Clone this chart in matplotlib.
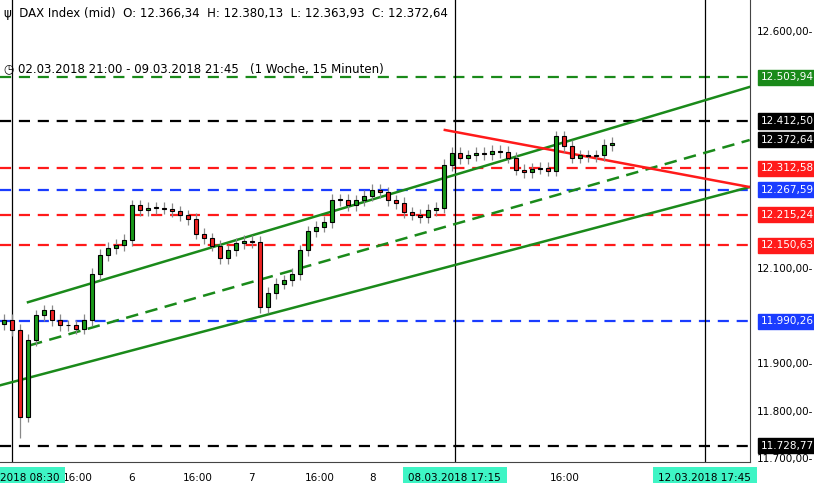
import matplotlib
matplotlib.use('Agg')
import matplotlib.pyplot as plt
from matplotlib.patches import Rectangle

# closing prices of the 15-minute bars (roughly every other bar)
closes = [11993, 11972, 11790, 11951, 12003, 12014, 11993, 11982, 11982, 11975,
          11993, 12090, 12130, 12145, 12151, 12162, 12235, 12225, 12230, 12229,
          12228, 12222, 12214, 12206, 12175, 12165, 12150, 12124, 12140, 12155,
          12160, 12158, 12020, 12050, 12070, 12077, 12090, 12140, 12180, 12190,
          12200, 12246, 12246, 12235, 12245, 12255, 12267, 12262, 12245, 12240,
          12220, 12215, 12210, 12225, 12230, 12320, 12345, 12334, 12340, 12345,
          12342, 12350, 12347, 12335, 12310, 12305, 12312, 12313, 12308, 12380,
          12360, 12335, 12340, 12338, 12340, 12362, 12366]
first_open = 11985
wick = 12

levels = [12503.94, 12412.50, 12312.58, 12267.59, 12215.24, 12150.63, 11990.26, 11728.77]
level_colors = ['#1a8a1a', '#000000', '#ff1a1a', '#1a3cff', '#ff1a1a', '#ff1a1a', '#1a3cff', '#000000']
last_price = 12372.64

price_ticks = [12600, 12100, 11900, 11800, 11700]
time_ticks = [(9.25, '16:00'), (16, '6'), (24.25, '16:00'), (31, '7'), (39.5, '16:00'),
              (46.1, '8'), (70.1, '16:00')]

fig = plt.figure(figsize=(8.14, 4.83), dpi=100)
ax = fig.add_axes([0, 0.043, 0.921, 0.957])
ymin, ymax = 11694, 12667
ax.set_xlim(-0.5, 93.25)
ax.set_ylim(ymin, ymax)
ax.set_xticks([]); ax.set_yticks([])
for s in ['top', 'left']:
    ax.spines[s].set_visible(False)
ax.spines['right'].set_color('#444444')
ax.spines['bottom'].set_color('#444444')

def px(x):  # pixel x -> index
    return x / 8 - 0.5

def py(y):  # pixel y -> price
    return 12600 - (y - 32) * 2.108

# horizontal levels
for lv, c in zip(levels, level_colors):
    ax.axhline(lv, color=c, ls=(0, (5, 3.5)), lw=1.6, zorder=1)

# vertical lines
for vx in [12, 455, 705]:
    ax.axvline(px(vx), color='black', lw=0.9, zorder=1)

# trend lines
ax.plot([px(28), px(750)], [py(302), py(87)], color='#1a8a1a', lw=1.8, zorder=2)
ax.plot([px(30), px(750)], [py(345), py(140)], color='#1a8a1a', lw=1.8, ls=(0, (5, 3)), zorder=2)
ax.plot([px(0), px(750)], [py(385), py(187)], color='#1a8a1a', lw=1.8, zorder=2)
ax.plot([px(445), px(750)], [py(130), py(187)], color='#ff1a1a', lw=1.8, zorder=2)

# candles
prev = first_open
for i, c in enumerate(closes):
    o = prev
    hi = max(o, c) + wick
    lo = min(o, c) - wick
    if i == 2:
        lo = 11745
    ax.vlines(i, lo, hi, color='#888888', lw=0.9, zorder=3)
    col = '#1a9a1a' if c >= o else '#ee2222'
    h = max(abs(c - o), 1.5)
    ax.add_patch(Rectangle((i - 0.24, min(o, c)), 0.48, h, facecolor=col,
                           edgecolor='black', lw=0.8, zorder=4))
    prev = c

# header
fig.text(0.005, 0.985, '\u03c8  DAX Index (mid)  O: 12.366,34  H: 12.380,13  L: 12.363,93  C: 12.372,64',
         fontsize=8.5, va='top', ha='left')
fig.text(0.005, 0.872, '\u25f7 02.03.2018 21:00 - 09.03.2018 21:45   (1 Woche, 15 Minuten)',
         fontsize=8.5, va='top', ha='left')

def fmt(v):
    s = f'{v:,.2f}'
    return s.replace(',', 'X').replace('.', ',').replace('X', '.')

# right price ticks
for t in price_ticks:
    ax.annotate(fmt(t) + '-', xy=(1, t), xycoords=('axes fraction', 'data'),
                xytext=(5, 0), textcoords='offset points', va='center', ha='left',
                fontsize=7.5, annotation_clip=False)

# right level tags
for lv, c in list(zip(levels, level_colors)) + [(last_price, '#000000')]:
    ax.annotate(fmt(lv), xy=(1, lv), xycoords=('axes fraction', 'data'),
                xytext=(8, 0), textcoords='offset points', va='center', ha='left',
                fontsize=7.5, color='white', annotation_clip=False,
                bbox=dict(boxstyle='square,pad=0.25', fc=c, ec=c))

# time axis labels
for x, lbl in time_ticks:
    ax.annotate(lbl, xy=(x, 0), xycoords=('data', 'axes fraction'), xytext=(0, -11),
                textcoords='offset points', ha='center', va='center', fontsize=7.5,
                annotation_clip=False)
for x, lbl in [(px(455), '08.03.2018 17:15'), (px(705), '12.03.2018 17:45'), (px(30), '2018 08:30')]:
    ax.annotate(lbl, xy=(x, 0), xycoords=('data', 'axes fraction'), xytext=(0, -11),
                textcoords='offset points', ha='center', va='center', fontsize=7.5,
                annotation_clip=False,
                bbox=dict(boxstyle='square,pad=0.55', fc='#3ef5c5', ec='none'))

fig.savefig('out.png', dpi=100, facecolor='white')
